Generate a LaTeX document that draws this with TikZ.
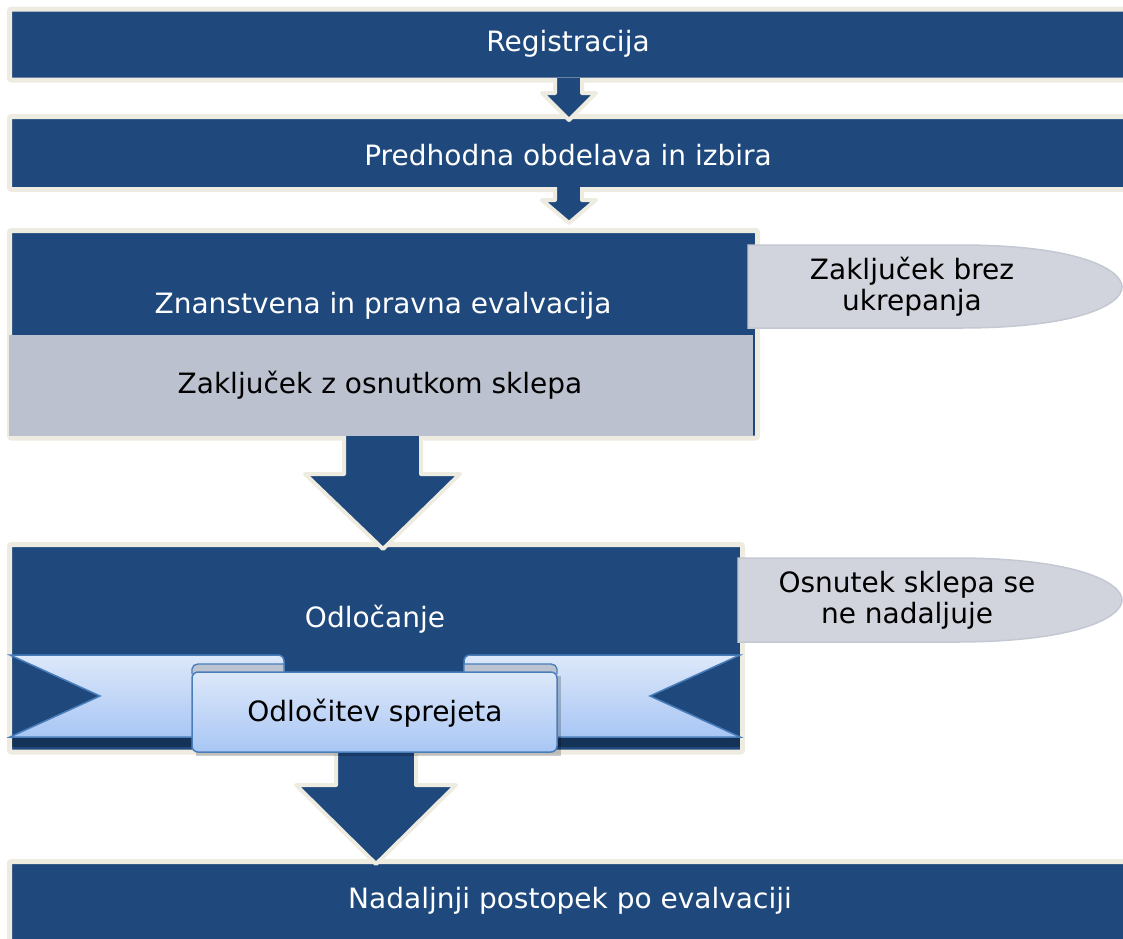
\documentclass[tikz,border=0pt]{standalone}
\usepackage{fontspec}
\setmainfont{DejaVu Sans}
\definecolor{dblue}{HTML}{1F497D}
\definecolor{cream}{HTML}{EEECE1}
\definecolor{greybox}{HTML}{BCC1CF}
\definecolor{callfill}{HTML}{D1D4DC}
\definecolor{callline}{HTML}{C3C8D3}
\definecolor{ribtop}{HTML}{DDE8FA}
\definecolor{ribbot}{HTML}{A8C6F4}
\definecolor{ribline}{HTML}{4A7EBB}
\definecolor{curlgrey}{HTML}{BCC4D2}
\begin{document}
\begin{tikzpicture}[x=1pt,y=-1pt,
  blockbox/.style={fill=dblue,draw=cream,line width=5pt,rounded corners=2pt},
  blockarrow/.style={fill=dblue,draw=cream,line width=4pt,line join=round},
  whitetxt/.style={text=white,font=\fontsize{28}{32}\selectfont,inner sep=0pt},
  blacktxt/.style={text=black,font=\fontsize{28}{31}\selectfont,inner sep=0pt,align=center},
  callout/.style={fill=callfill,draw=callline,line width=1.5pt},
  ribbonpart/.style={top color=ribtop,bottom color=ribbot,draw=ribline,line width=1.5pt},
  curl/.style={fill=curlgrey,draw=ribline,line width=1.3pt}]
\useasboundingbox (0,0) rectangle (1123,938);
\clip (0,0) rectangle (1123,938);
% boxes
\path[blockbox] (9.5,9) rectangle (1135,80);
\path[blockbox] (9.5,116.5) rectangle (1135,189.5);
\path[blockbox] (9.5,230.5) rectangle (757.5,438);
\fill[greybox] (7,335) rectangle (753,436);
\draw[cream,line width=2pt] (8,335) -- (8,436);
\path[blockbox] (9.5,544.5) rectangle (742.5,752);
\path[blockbox] (9.5,861.5) rectangle (1135,945);
% block arrows
\path[blockarrow] (555,78) -- (555,93) -- (542,93) -- (569,120) -- (596,93) -- (582,93) -- (582,78);
\path[blockarrow] (555,187) -- (555,200) -- (542,200) -- (569,223) -- (596,200) -- (582,200) -- (582,187);
\path[blockarrow] (344,436) -- (344,474) -- (305,474) -- (383,549) -- (460,474) -- (421,474) -- (421,436);
\path[blockarrow] (336,749) -- (336,785) -- (296,785) -- (376,864) -- (456,785) -- (416,785) -- (416,749);
% ribbon
\fill[black,opacity=0.3] (12,737) rectangle (740,747);
\path[ribbonpart] (10,655) -- (278,655) to[out=0,in=90] (284,661) -- (284,737) -- (10,737) -- (100,696) -- cycle;
\path[ribbonpart] (740,655) -- (470,655) to[out=180,in=90] (464,661) -- (464,737) -- (740,737) -- (650,696) -- cycle;
\path[curl] (284,674) -- (284,664) -- (198,664) to[out=180,in=90] (192,669) -- (192,674);
\path[curl] (464,674) -- (464,664) -- (551,664) to[out=0,in=90] (557,669) -- (557,674);
\fill[black,opacity=0.2] (196,676) rectangle (561,756);
\path[ribbonpart,rounded corners=6pt] (192,672) rectangle (557,752);
% callouts
\path[callout] (748,245) -- (960,245) .. controls (1080,245) and (1122,270) .. (1122,287)
  .. controls (1122,304) and (1080,328) .. (960,328) -- (748,328) -- cycle;
\path[callout] (738,558) -- (955,558) .. controls (1078,558) and (1122,583) .. (1122,600)
  .. controls (1122,617) and (1078,642) .. (955,642) -- (738,642) -- cycle;
% texts
\node[whitetxt] (t1) at (568,44) {Registracija};
\node[whitetxt] (t2) at (568,155) {Predhodna obdelava in izbira};
\node[whitetxt] (t3) at (383,306) {Znanstvena in pravna evalvacija};
\node[blacktxt] (t4) at (380,385) {Zaključek z osnutkom sklepa};
\node[blacktxt] (c1) at (912,287) {Zaključek brez\\ukrepanja};
\node[whitetxt] (t5) at (375,619) {Odločanje};
\node[blacktxt] (c2) at (907,600) {Osnutek sklepa se\\ne nadaljuje};
\node[blacktxt] (t6) at (375,713) {Odločitev sprejeta};
\node[whitetxt] (t7) at (570,901) {Nadaljnji postopek po evalvaciji};
\end{tikzpicture}
\end{document}
